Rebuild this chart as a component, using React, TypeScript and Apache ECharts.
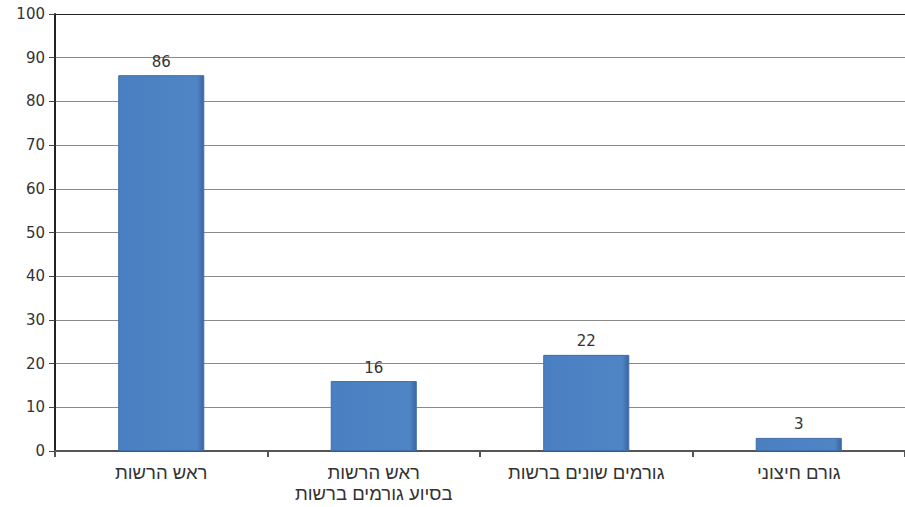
import React, { useEffect, useRef } from "react";
import * as echarts from "echarts";

const categories = ["ראש הרשות", "ראש הרשות\nבסיוע גורמים ברשות", "גורמים שונים ברשות", "גורם חיצוני"];
const values = [86, 16, 22, 3];
const yTicks = { min: 0, max: 100, interval: 10 };

export default function App() {
  const ref = useRef<HTMLDivElement>(null);
  useEffect(() => {
    const chart = echarts.init(ref.current!, null, { renderer: "svg" });
    const gridColors = [
      "#8a8a8a", "#8a8a8a", "#8a8a8a", "#8a8a8a", "#8a8a8a",
      "#8a8a8a", "#8a8a8a", "#8a8a8a", "#8a8a8a", "#8a8a8a", "#222222",
    ];
    chart.setOption({
      animation: false,
      backgroundColor: "#ffffff",
      grid: { left: 55, top: 14, width: 856, height: 437, containLabel: false },
      xAxis: {
        type: "category",
        data: categories,
        axisLine: { lineStyle: { color: "#555", width: 2 } },
        axisTick: { show: true, length: 6, lineStyle: { color: "#555", width: 2 } },
        axisLabel: {
          color: "#333",
          fontFamily: "Liberation Sans",
          fontSize: 18.5,
          lineHeight: 21,
          margin: 11,
        },
      },
      yAxis: {
        type: "value",
        min: yTicks.min,
        max: yTicks.max,
        interval: yTicks.interval,
        axisLine: { show: true, lineStyle: { color: "#222", width: 2 } },
        axisTick: { show: true, length: 6, lineStyle: { color: "#444", width: 1 } },
        axisLabel: { color: "#333", fontFamily: "DejaVu Sans", fontSize: 15, margin: 10 },
        splitLine: { show: true, lineStyle: { color: gridColors, width: 1 } },
      },
      series: [
        {
          type: "bar",
          data: values,
          barWidth: "40.5%",
          itemStyle: {
            color: new echarts.graphic.LinearGradient(0, 0, 1, 0, [
              { offset: 0, color: "#4a7fc1" },
              { offset: 0.92, color: "#4f85c5" },
              { offset: 1, color: "#3a65a0" },
            ]),
            borderColor: "#3f6ea8",
            borderWidth: 1,
          },
          label: {
            show: true,
            position: "top",
            distance: 6,
            color: "#333",
            fontFamily: "DejaVu Sans",
            fontSize: 15,
          },
        },
      ],
    });
    return () => chart.dispose();
  }, []);
  return <div ref={ref} style={{ width: 905, height: 507, position: "absolute", left: 0, top: 0 }} />;
}
